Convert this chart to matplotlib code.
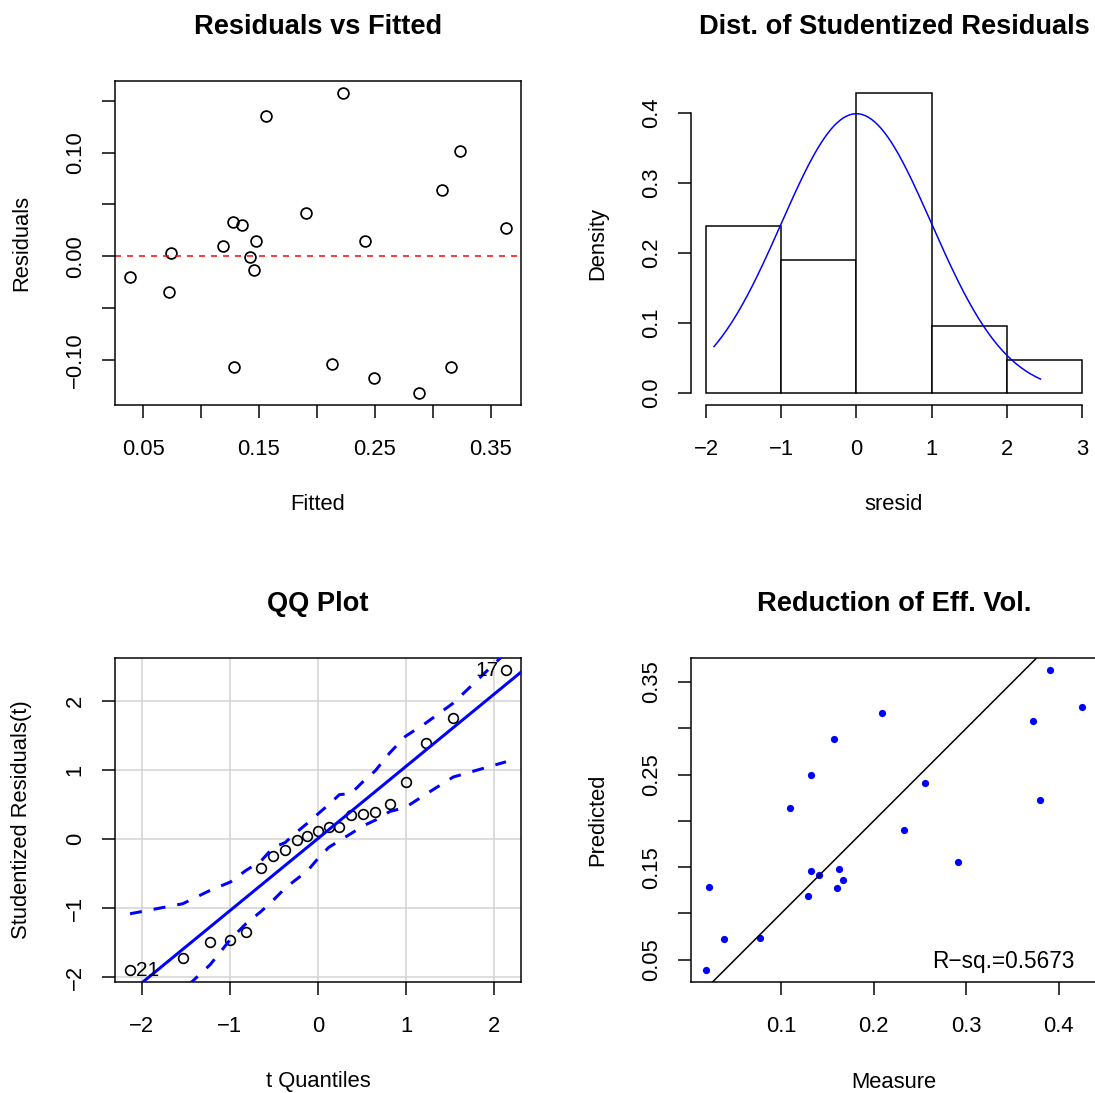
import numpy as np
import matplotlib
matplotlib.use("Agg")
import matplotlib.pyplot as plt

plt.rcParams['font.family'] = ['Liberation Sans', 'DejaVu Sans']
plt.rcParams['axes.unicode_minus'] = True

# ---------------- data ----------------
predicted = [0.0388, 0.0720, 0.0738, 0.1190, 0.1275, 0.1285, 0.1358, 0.1419,
             0.1458, 0.1476, 0.1560, 0.1903, 0.2134, 0.2222, 0.2412, 0.2496,
             0.2885, 0.3080, 0.3161, 0.3235, 0.3631]
measured = [0.0188, 0.0380, 0.0768, 0.1293, 0.1605, 0.0215, 0.1663, 0.1413,
            0.1323, 0.1620, 0.2910, 0.2323, 0.1096, 0.3796, 0.2559, 0.1320,
            0.1568, 0.3724, 0.2091, 0.4251, 0.3903]

# studentized residuals (sorted) and t quantiles
sresid = [-1.894, -1.726, -1.490, -1.457, -1.351, -0.418, -0.250, -0.159,
          -0.009, 0.043, 0.121, 0.173, 0.179, 0.356, 0.366, 0.400, 0.505,
          0.833, 1.385, 1.756, 2.449]
t_quant = [-2.134, -1.536, -1.223, -0.994, -0.815, -0.650, -0.509, -0.374,
           -0.244, -0.121, 0.0, 0.121, 0.244, 0.374, 0.509, 0.650, 0.815,
           0.994, 1.223, 1.536, 2.134]
env_upper = [-1.08, -0.935, -0.74, -0.62, -0.45, -0.32, -0.12, -0.05, 0.10,
             0.23, 0.366, 0.50, 0.645, 0.66, 0.83, 0.99, 1.25, 1.49, 1.68,
             1.97, 2.70]
env_lower = [-3.20, -2.19, -1.815, -1.45, -1.22, -1.05, -0.885, -0.71, -0.58,
             -0.46, -0.28, -0.12, -0.02, 0.08, 0.19, 0.275, 0.40, 0.46, 0.65,
             0.90, 1.12]
qq_intercept, qq_slope = 0.01, 1.045
qq_labels = {"21": 0, "17": 20}

hist_bins = [-2, -1, 0, 1, 2, 3]
r_sq_text = "R\u2212sq.=0.5673"

residuals = [m - p for m, p in zip(measured, predicted)]

# ---------------- figure ----------------
W, H = 1095, 1093
fig = plt.figure(figsize=(W / 100, H / 100), dpi=100)

FS = 15.8
TFS = 19.6
LW = 1.08
BLUE = '#0000FF'


def make_ax(left, top, w=406, h=324):
    return fig.add_axes([left / W, 1 - (top + h) / H, w / W, h / H])


def style(ax, title, xlabel, ylabel, xt, xtl, yt, ytl):
    for s in ax.spines.values():
        s.set_linewidth(LW)
    ax.tick_params(direction='out', length=9.3, width=LW, labelsize=FS,
                   colors='black')
    ax.tick_params(axis='x', pad=23.0)
    ax.tick_params(axis='y', pad=19.4)
    ax.set_xticks(xt, xtl, va='center')
    ax.set_yticks(yt, ytl, rotation=90, va='center', ha='center')
    ax.set_title(title, fontsize=TFS, fontweight='bold', pad=34.0)
    ax.set_xlabel(xlabel, fontsize=FS, va='center')
    ax.set_ylabel(ylabel, fontsize=FS, va='center')
    ax.xaxis.set_label_coords(0.5, -100 / 324)
    ax.yaxis.set_label_coords(-93 / 406, 0.5)


def rext(lo, hi, f=0.04):
    d = (hi - lo) * f
    return lo - d, hi + d

# ---- Panel 1: Residuals vs Fitted ----
ax1 = make_ax(115, 81)
ax1.plot(predicted, residuals, 'o', mfc='none', mec='black', ms=7.8, mew=1.25)
ax1.axhline(0, color='red', lw=LW, dashes=(4, 4))
ax1.set_xlim(*rext(min(predicted), max(predicted)))
ax1.set_ylim(*rext(min(residuals), max(residuals)))
style(ax1, 'Residuals vs Fitted', 'Fitted', 'Residuals',
      [0.05, 0.10, 0.15, 0.20, 0.25, 0.30, 0.35],
      ['0.05', '', '0.15', '', '0.25', '', '0.35'],
      [-0.10, -0.05, 0.0, 0.05, 0.10, 0.15],
      ['\u22120.10', '', '0.00', '', '0.10', ''])

# ---- Panel 2: histogram ----
ax2 = make_ax(691, 81)
ax2.hist(sresid, bins=hist_bins, density=True, facecolor='white',
         edgecolor='black', linewidth=LW)
xs = np.linspace(min(sresid), max(sresid), 200)
ax2.plot(xs, np.exp(-xs ** 2 / 2) / np.sqrt(2 * np.pi), color=BLUE, lw=LW)
ax2.set_xlim(*rext(hist_bins[0], hist_bins[-1]))
counts, _ = np.histogram(sresid, bins=hist_bins)
dens_max = counts.max() / (len(sresid) * 1.0)
ax2.set_ylim(*rext(0, dens_max))
style(ax2, 'Dist. of Studentized Residuals', 'sresid', 'Density',
      [-2, -1, 0, 1, 2, 3], ['\u22122', '\u22121', '0', '1', '2', '3'],
      [0, 0.1, 0.2, 0.3, 0.4], ['0.0', '0.1', '0.2', '0.3', '0.4'])
ax2.spines['top'].set_visible(False)
ax2.spines['right'].set_visible(False)
ax2.spines['left'].set_bounds(0, 0.4)
ax2.spines['bottom'].set_bounds(-2, 3)

# ---- Panel 3: QQ plot ----
ax3 = make_ax(115, 658)
ax3.set_axisbelow(True)
ax3.grid(True, color='#D3D3D3', lw=LW)
ax3.plot(t_quant, sresid, 'o', mfc='none', mec='black', ms=7.0, mew=1.2,
         zorder=3)
ax3.axline((0, qq_intercept), slope=qq_slope, color=BLUE, lw=2.16, zorder=4)
ax3.plot(t_quant, env_upper, color=BLUE, lw=2.16, dashes=(4, 4), zorder=4)
ax3.plot(t_quant, env_lower, color=BLUE, lw=2.16, dashes=(4, 4), zorder=4)
ax3.set_xlim(*rext(min(t_quant), max(t_quant)))
ax3.set_ylim(*rext(min(sresid), max(sresid)))
for lab, i in qq_labels.items():
    if t_quant[i] < 0:
        ax3.annotate(lab, (t_quant[i], sresid[i]), xytext=(4, 0),
                     textcoords='offset points', ha='left', va='center',
                     fontsize=FS * 0.95, zorder=5)
    else:
        ax3.annotate(lab, (t_quant[i], sresid[i]), xytext=(-5, 0),
                     textcoords='offset points', ha='right', va='center',
                     fontsize=FS * 0.95, zorder=5)
style(ax3, 'QQ Plot', 't Quantiles', 'Studentized Residuals(t)',
      [-2, -1, 0, 1, 2], ['\u22122', '\u22121', '0', '1', '2'],
      [-2, -1, 0, 1, 2], ['\u22122', '\u22121', '0', '1', '2'])

# ---- Panel 4: Measure vs Predicted ----
ax4 = make_ax(691, 658)
ax4.plot(measured, predicted, 'o', color=BLUE, ms=5.2, mew=0)
ax4.axline((0, 0), slope=1, color='black', lw=LW)
ax4.set_xlim(*rext(min(measured), max(measured)))
ax4.set_ylim(*rext(min(predicted), max(predicted)))
ax4.text(0.944, 0.063, r_sq_text, transform=ax4.transAxes, ha='right',
         va='center', fontsize=FS * 1.03)
style(ax4, 'Reduction of Eff. Vol.', 'Measure', 'Predicted',
      [0.1, 0.2, 0.3, 0.4], ['0.1', '0.2', '0.3', '0.4'],
      [0.05, 0.10, 0.15, 0.20, 0.25, 0.30, 0.35],
      ['0.05', '', '0.15', '', '0.25', '', '0.35'])

fig.savefig('out.png', dpi=100)
